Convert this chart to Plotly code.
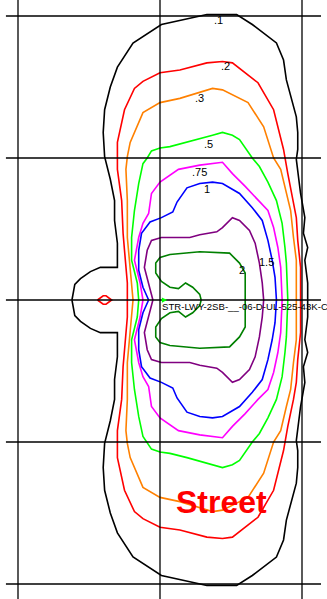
import plotly.graph_objects as go

# Isolines, closed loops, in grid units (1 grid square = 1 unit, luminaire at 0,0)
iso_levels = [".1", ".2", ".3", ".5", ".75", "1", "1.5", "2"]
iso_colors = ["#000000", "#FF0000", "#FF8000", "#00FF00", "#FF00FF", "#0000FF", "#800080", "#008000"]

iso_010 = [
    (-0.62, 0), (-0.60, 0.11), (-0.56, 0.15), (-0.49, 0.20), (-0.42, 0.23), (-0.30, 0.23),
    (-0.30, 0.40), (-0.32, 0.56), (-0.32, 0.70), (-0.35, 0.85), (-0.39, 1.01), (-0.40, 1.18),
    (-0.39, 1.34), (-0.35, 1.50), (-0.30, 1.64), (-0.19, 1.81), (0.01, 1.94), (0.33, 2.01),
    (0.54, 2.01), (0.65, 1.94), (0.82, 1.81), (0.87, 1.69), (0.89, 1.55), (0.93, 1.41),
    (0.96, 1.29), (0.97, 1.18), (0.97, 1.06), (0.96, 0.99), (0.99, 0.75), (1.02, 0.58),
    (1.01, 0.47), (1.04, 0.37), (1.02, 0.28), (1.04, 0.12), (1.04, 0),
    (1.04, -0.12), (1.02, -0.28), (1.04, -0.37), (1.01, -0.47), (1.02, -0.58), (0.99, -0.75),
    (0.96, -0.99), (0.97, -1.06), (0.97, -1.18), (0.96, -1.29), (0.93, -1.41), (0.89, -1.55),
    (0.87, -1.69), (0.82, -1.81), (0.65, -1.94), (0.54, -2.01), (0.33, -2.01), (0.01, -1.94),
    (-0.19, -1.81), (-0.30, -1.64), (-0.35, -1.50), (-0.39, -1.34), (-0.40, -1.18), (-0.39, -1.01),
    (-0.35, -0.85), (-0.32, -0.70), (-0.32, -0.56), (-0.30, -0.40), (-0.30, -0.23), (-0.42, -0.23),
    (-0.49, -0.20), (-0.56, -0.15), (-0.60, -0.11), (-0.62, 0),
]

iso_020 = [
    (-0.23, 0), (-0.23, 0.12), (-0.25, 0.35), (-0.26, 0.47), (-0.27, 0.70), (-0.30, 0.92),
    (-0.30, 1.11), (-0.25, 1.34), (-0.18, 1.49), (-0.12, 1.54), (0, 1.60), (0.14, 1.62),
    (0.33, 1.67), (0.44, 1.68), (0.51, 1.67), (0.69, 1.53), (0.80, 1.34), (0.87, 1.06),
    (0.90, 0.89), (0.94, 0.70), (0.96, 0.58), (0.97, 0.42), (0.99, 0.23), (0.99, 0),
    (0.99, -0.23), (0.97, -0.42), (0.96, -0.58), (0.94, -0.70), (0.90, -0.89), (0.87, -1.06),
    (0.80, -1.34), (0.69, -1.53), (0.51, -1.67), (0.44, -1.68), (0.33, -1.67), (0.14, -1.62),
    (0, -1.60), (-0.12, -1.54), (-0.18, -1.49), (-0.25, -1.34), (-0.30, -1.11), (-0.30, -0.92),
    (-0.27, -0.70), (-0.26, -0.47), (-0.25, -0.35), (-0.23, -0.12), (-0.23, 0),
]

# small 0.2 island left of the pole
iso_020_island = [
    (-0.44, 0), (-0.40, 0.03), (-0.38, 0.03), (-0.34, 0), (-0.38, -0.03), (-0.40, -0.03), (-0.44, 0),
]

iso_030 = [
    (-0.19, 0), (-0.21, 0.21), (-0.23, 0.44), (-0.23, 0.70), (-0.24, 0.92), (-0.23, 1.01),
    (-0.21, 1.11), (-0.12, 1.32), (0, 1.39), (0.14, 1.42), (0.37, 1.49), (0.44, 1.48),
    (0.62, 1.39), (0.73, 1.22), (0.80, 1.00), (0.85, 0.92), (0.89, 0.75), (0.92, 0.63),
    (0.94, 0.44), (0.96, 0.28), (0.96, 0.12), (0.96, 0),
    (0.96, -0.12), (0.96, -0.28), (0.94, -0.44), (0.92, -0.63), (0.89, -0.75), (0.85, -0.92),
    (0.80, -1.00), (0.73, -1.22), (0.62, -1.39), (0.44, -1.48), (0.37, -1.49), (0.14, -1.42),
    (0, -1.39), (-0.12, -1.32), (-0.21, -1.11), (-0.23, -1.01), (-0.24, -0.92), (-0.23, -0.70),
    (-0.23, -0.44), (-0.21, -0.21), (-0.19, 0),
]

iso_050 = [
    (-0.15, 0), (-0.16, 0.12), (-0.20, 0.28), (-0.20, 0.44), (-0.18, 0.63), (-0.15, 0.82),
    (-0.12, 0.96), (-0.09, 1.00), (-0.06, 1.05), (0, 1.07), (0.07, 1.08), (0.19, 1.11),
    (0.37, 1.16), (0.44, 1.18), (0.51, 1.16), (0.56, 1.13), (0.65, 1.00), (0.70, 0.94),
    (0.76, 0.83), (0.82, 0.70), (0.86, 0.54), (0.88, 0.37), (0.89, 0.26), (0.90, 0),
    (0.89, -0.26), (0.88, -0.37), (0.86, -0.54), (0.82, -0.70), (0.76, -0.83), (0.70, -0.94),
    (0.65, -1.00), (0.56, -1.13), (0.51, -1.16), (0.44, -1.18), (0.37, -1.16), (0.19, -1.11),
    (0.07, -1.08), (0, -1.07), (-0.06, -1.05), (-0.09, -1.00), (-0.12, -0.96), (-0.15, -0.82),
    (-0.18, -0.63), (-0.20, -0.44), (-0.20, -0.28), (-0.16, -0.12), (-0.15, 0),
]

iso_075 = [
    (-0.12, 0), (-0.14, 0.12), (-0.18, 0.28), (-0.15, 0.44), (-0.12, 0.54), (-0.08, 0.61),
    (-0.06, 0.75), (0, 0.83), (0.13, 0.92), (0.28, 0.95), (0.44, 0.97), (0.51, 0.89),
    (0.60, 0.80), (0.69, 0.70), (0.76, 0.63), (0.80, 0.51), (0.83, 0.37), (0.85, 0.23), (0.86, 0),
    (0.85, -0.23), (0.83, -0.37), (0.80, -0.51), (0.76, -0.63), (0.69, -0.70), (0.60, -0.80),
    (0.51, -0.89), (0.44, -0.97), (0.28, -0.95), (0.13, -0.92), (0, -0.83), (-0.06, -0.75),
    (-0.08, -0.61), (-0.12, -0.54), (-0.15, -0.44), (-0.18, -0.28), (-0.14, -0.12), (-0.12, 0),
]

iso_100 = [
    (-0.08, 0), (-0.12, 0.09), (-0.15, 0.21), (-0.15, 0.35), (-0.13, 0.47), (-0.07, 0.55),
    (0.01, 0.58), (0.09, 0.62), (0.12, 0.69), (0.19, 0.79), (0.28, 0.82), (0.37, 0.83),
    (0.44, 0.82), (0.56, 0.75), (0.65, 0.65), (0.72, 0.56), (0.76, 0.42), (0.79, 0.28),
    (0.81, 0.16), (0.82, 0),
    (0.81, -0.16), (0.79, -0.28), (0.76, -0.42), (0.72, -0.56), (0.65, -0.65), (0.56, -0.75),
    (0.44, -0.82), (0.37, -0.83), (0.28, -0.82), (0.19, -0.79), (0.12, -0.69), (0.09, -0.62),
    (0.01, -0.58), (-0.07, -0.55), (-0.13, -0.47), (-0.15, -0.35), (-0.15, -0.21), (-0.12, -0.09),
    (-0.08, 0),
]

iso_150 = [
    (-0.05, 0), (-0.08, 0.12), (-0.11, 0.23), (-0.09, 0.35), (-0.06, 0.42), (0.01, 0.44),
    (0.11, 0.44), (0.21, 0.44), (0.28, 0.46), (0.40, 0.48), (0.44, 0.51), (0.51, 0.58),
    (0.56, 0.56), (0.63, 0.49), (0.67, 0.40), (0.70, 0.26), (0.72, 0.12), (0.73, 0),
    (0.72, -0.12), (0.70, -0.26), (0.67, -0.40), (0.63, -0.49), (0.56, -0.56), (0.51, -0.58),
    (0.44, -0.51), (0.40, -0.48), (0.28, -0.46), (0.21, -0.44), (0.11, -0.44), (0.01, -0.44),
    (-0.06, -0.42), (-0.09, -0.35), (-0.11, -0.23), (-0.08, -0.12), (-0.05, 0),
]

iso_200 = [
    (0.29, 0), (0.28, 0.04), (0.23, 0.09), (0.18, 0.12), (0.13, 0.08), (0.07, 0.09),
    (0.01, 0.13), (-0.03, 0.19), (-0.03, 0.26), (0, 0.30), (0.07, 0.32), (0.28, 0.34),
    (0.49, 0.33), (0.56, 0.26), (0.60, 0.19), (0.60, 0),
    (0.60, -0.19), (0.56, -0.26), (0.49, -0.33), (0.28, -0.34), (0.07, -0.32), (0, -0.30),
    (-0.03, -0.26), (-0.03, -0.19), (0.01, -0.13), (0.07, -0.09), (0.13, -0.08), (0.18, -0.12),
    (0.23, -0.09), (0.28, -0.04), (0.29, 0),
]

iso_lines = [iso_010, iso_020, iso_030, iso_050, iso_075, iso_100, iso_150, iso_200]

# where each level's value is written
label_x = [0.41, 0.46, 0.28, 0.34, 0.28, 0.33, 0.75, 0.58]
label_y = [1.97, 1.65, 1.42, 1.10, 0.90, 0.78, 0.27, 0.21]

# grid (one square per mounting height)
grid_x = [-1, 0, 1]
grid_y = [-2, -1, 0, 1, 2]
grid_x_extent = [-1.085, 1.134]

luminaire_name = "STR-LWY-2SB-__-06-D-UL-525-43K-C"
area_name = "Street"

FONT = "Liberation Sans, Arial, sans-serif"

fig = go.Figure()

for xv in grid_x:
    fig.add_shape(type="line", x0=xv, x1=xv, y0=-2.2, y1=2.2,
                  line=dict(color="black", width=1.3))
for yv in grid_y:
    fig.add_shape(type="line", x0=grid_x_extent[0], x1=grid_x_extent[1], y0=yv, y1=yv,
                  line=dict(color="black", width=1.3))

for pts, color in zip(iso_lines, iso_colors):
    fig.add_trace(go.Scatter(
        x=[p[0] for p in pts], y=[p[1] for p in pts],
        mode="lines", line=dict(color=color, width=1.6),
        hoverinfo="skip", showlegend=False,
    ))

fig.add_trace(go.Scatter(
    x=[p[0] for p in iso_020_island], y=[p[1] for p in iso_020_island],
    mode="lines", line=dict(color=iso_colors[1], width=1.6),
    hoverinfo="skip", showlegend=False,
))

for lvl, lx, ly in zip(iso_levels, label_x, label_y):
    fig.add_annotation(x=lx, y=ly, text=lvl, showarrow=False,
                       font=dict(family=FONT, size=11, color="black"))

# luminaire marker + name
fig.add_annotation(x=0.05, y=0, ax=0, ay=0, axref="x", ayref="y", text="",
                   showarrow=True, arrowhead=2, arrowsize=0.7, arrowwidth=1.5,
                   arrowcolor="#00FF00")
fig.add_annotation(x=0, y=0, text=luminaire_name, showarrow=False,
                   xanchor="left", yanchor="top", yshift=1,
                   font=dict(family=FONT, size=9.6, color="black"))

fig.add_annotation(x=0.43, y=-1.42, text="<b>" + area_name + "</b>", showarrow=False,
                   font=dict(family=FONT, size=32, color="#FF0000"))

fig.update_layout(
    width=327, height=599,
    margin=dict(l=0, r=0, t=0, b=0),
    paper_bgcolor="white", plot_bgcolor="white",
    xaxis=dict(range=[-160 / 142, 167 / 142], visible=False, fixedrange=True),
    yaxis=dict(range=[-299 / 142, 300 / 142], visible=False, fixedrange=True),
    showlegend=False,
)

# page body has a default 8px margin; drop it so the figure sits at the corner
fig.write_html("out.html", config={"displayModeBar": False},
               post_script="document.body.style.margin='0';")
